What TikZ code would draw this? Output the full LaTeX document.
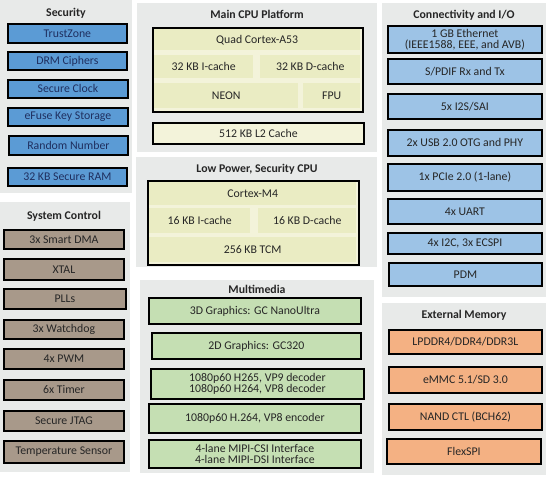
\documentclass[tikz,border=0pt]{standalone}
\usepackage{fontspec}
\setmainfont{Carlito}
\definecolor{panelgray}{HTML}{E8EAE9}
\definecolor{secblue}{HTML}{5B9BD5}
\definecolor{ioblue}{HTML}{9DC3E6}
\definecolor{taupe}{HTML}{A8998A}
\definecolor{cpuout}{HTML}{F3F3DA}
\definecolor{cpucell}{HTML}{EAECC3}
\definecolor{mmgreen}{HTML}{C5DFB3}
\definecolor{memorange}{HTML}{F4B183}
\definecolor{txt}{HTML}{262626}
\definecolor{sectxt}{HTML}{1F2F5F}
\newcommand\blk[7]{\node[#2, anchor=north west, minimum width={#5-#3}, minimum height={#6-#4}] (#1) at (#3,#4) {#7};}
\tikzset{
  x=1pt, y=-1pt,
  panel/.style={fill=panelgray, draw=none, inner sep=0pt},
  ttl/.style={font=\bfseries\fontsize{11.8}{12}\selectfont, text=txt, inner sep=0pt},
  base/.style={draw=black, line width=1.8pt, inner sep=0pt, align=center, font=\fontsize{11.8}{10.8}\selectfont, text=txt},
  secbox/.style={base, fill=secblue, text=sectxt},
  sysbox/.style={base, fill=taupe},
  iobox/.style={base, fill=ioblue},
  cpubox/.style={base, fill=cpuout},
  cell/.style={draw=none, fill=cpucell, inner sep=0pt, align=center, font=\fontsize{11.8}{12}\selectfont, text=txt},
  mmbox/.style={base, fill=mmgreen},
  membox/.style={base, fill=memorange},
}
\begin{document}
\begin{tikzpicture}
\useasboundingbox[fill=white] (0,0) rectangle (548,480);
% panels
\blk{secp}{panel}{0}{0}{132}{193}{}
\blk{sysp}{panel}{0}{202}{130}{472}{}
\blk{mainp}{panel}{137}{3}{377}{152}{}
\blk{lpp}{panel}{136}{157}{377}{267}{}
\blk{mmp}{panel}{140}{280}{374}{473}{}
\blk{iop}{panel}{382}{3}{546}{297}{}
\blk{memp}{panel}{382}{303}{546}{475}{}
% titles
\node[ttl] (sect) at (66,13) {Security};
\node[ttl] (syst) at (64,216) {System Control};
\node[ttl] (maint) at (257,14) {Main CPU Platform};
\node[ttl] (lpt) at (257,169) {Low Power, Security CPU};
\node[ttl] (mmt) at (257,289) {Multimedia};
\node[ttl] (iot) at (464,15) {Connectivity and I/O};
\node[ttl] (memt) at (464,315) {External Memory};
% security
\blk{tz}{secbox}{7}{23}{126}{42}{TrustZone}
\blk{drm}{secbox}{7}{51}{126}{69}{DRM Ciphers}
\blk{sclk}{secbox}{7}{79}{127}{97}{Secure Clock}
\blk{efuse}{secbox}{7}{107}{127}{125}{eFuse Key Storage}
\blk{rng}{secbox}{8}{135}{127}{154}{Random Number}
\blk{sram}{secbox}{7}{167}{126}{185}{32 KB Secure RAM}
% system control
\blk{dma}{sysbox}{3}{229}{123}{248}{3x Smart DMA}
\blk{xtal}{sysbox}{3}{258}{123}{279}{XTAL}
\blk{plls}{sysbox}{3}{288}{125}{308}{PLLs}
\blk{wdog}{sysbox}{3}{319}{123}{338}{3x Watchdog}
\blk{pwm}{sysbox}{3}{348}{123}{368}{4x PWM}
\blk{timer}{sysbox}{3}{379}{123}{399}{6x Timer}
\blk{jtag}{sysbox}{3}{410}{123}{430}{Secure JTAG}
\blk{temp}{sysbox}{3}{440}{123}{462}{Temperature Sensor}
% main CPU
\blk{a53}{cpubox}{152}{27}{362}{111}{}
\blk{a53c}{cell}{154}{29}{360}{50}{Quad Cortex-A53}
\blk{a53i}{cell}{154}{55}{253}{78}{32 KB I-cache}
\blk{a53d}{cell}{260}{55}{360}{78}{32 KB D-cache}
\blk{neon}{cell}{154}{83}{298}{108}{NEON}
\blk{fpu}{cell}{303}{83}{360}{108}{FPU}
\blk{l2}{cpubox}{152}{122}{363}{143}{512 KB L2 Cache}
% low power CPU
\blk{m4}{cpubox}{147}{180}{358}{264}{}
\blk{m4c}{cell}{149}{182}{356}{205}{Cortex-M4}
\blk{m4i}{cell}{149}{208}{250}{233}{16 KB I-cache}
\blk{m4d}{cell}{258}{208}{356}{233}{16 KB D-cache}
\blk{tcm}{cell}{149}{237}{356}{262}{256 KB TCM}
% multimedia
\blk{g3d}{mmbox}{148}{297}{360}{323}{3D Graphics: GC NanoUltra}
\blk{g2d}{mmbox}{151}{332}{360}{358}{2D Graphics: GC320}
\blk{vdec}{mmbox}{150}{368}{363}{398}{1080p60 H265, VP9 decoder\\1080p60 H264, VP8 decoder}
\blk{venc}{mmbox}{148}{403}{360}{432}{1080p60 H.264, VP8 encoder}
\blk{mipi}{mmbox}{148}{439}{360}{467}{4-lane MIPI-CSI Interface\\4-lane MIPI-DSI Interface}
% connectivity
\blk{eth}{iobox}{387}{25}{541}{52}{1 GB Ethernet\\(IEEE1588, EEE, and AVB)}
\blk{spdif}{iobox}{387}{58}{541}{83}{S/PDIF Rx and Tx}
\blk{i2s}{iobox}{387}{93}{541}{118}{5x I2S/SAI}
\blk{usb}{iobox}{387}{129}{541}{155}{2x USB 2.0 OTG and PHY}
\blk{pcie}{iobox}{387}{163}{541}{190}{1x PCIe 2.0 (1-lane)}
\blk{uart}{iobox}{387}{198}{541}{223}{4x UART}
\blk{i2c}{iobox}{387}{232}{541}{253}{4x I2C, 3x ECSPI}
\blk{pdm}{iobox}{388}{262}{541}{285}{PDM}
% external memory
\blk{ddr}{membox}{388}{329}{541}{353}{LPDDR4/DDR4/DDR3L}
\blk{emmc}{membox}{388}{366}{541}{392}{eMMC 5.1/SD 3.0}
\blk{nand}{membox}{388}{403}{541}{429}{NAND CTL (BCH62)}
\blk{fspi}{membox}{386}{438}{540}{463}{FlexSPI}
\end{tikzpicture}
\end{document}
